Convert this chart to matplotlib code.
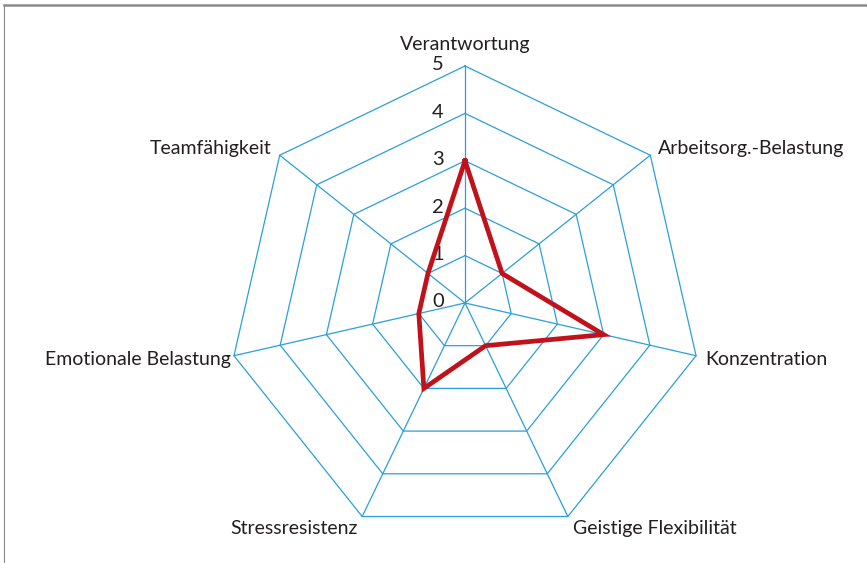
import numpy as np
import matplotlib.pyplot as plt
from matplotlib.lines import Line2D

# Kategorien im Uhrzeigersinn, beginnend oben
categories = ['Verantwortung', 'Arbeitsorg.-Belastung', 'Konzentration',
              'Geistige Flexibilität', 'Stressresistenz',
              'Emotionale Belastung', 'Teamfähigkeit']
values = [3, 1, 3, 1, 2, 1, 1]
rings = [1, 2, 3, 4, 5]
tick_labels = ['0', '1', '2', '3', '4', '5']

grid_color = '#2b9fd9'
line_color = '#c1121c'
text_color = '#231f20'

plt.rcParams['font.family'] = ['Lato', 'DejaVu Sans']

n = len(categories)
angles = np.linspace(0, 2 * np.pi, n, endpoint=False)
closed = np.append(angles, angles[0])

fig = plt.figure(figsize=(8.67, 5.63), dpi=100)
ax = fig.add_axes([0.263, 0.0409, 0.5467, 0.8419], projection='polar')
ax.set_theta_zero_location('N')
ax.set_theta_direction(-1)
ax.set_ylim(0, 5)
ax.grid(False)
ax.set_xticks([])
ax.set_yticks([])
ax.spines['polar'].set_visible(False)
ax.patch.set_visible(False)

# Netz
for r in rings:
    ax.plot(closed, [r] * (n + 1), color=grid_color, lw=0.9, clip_on=False)
for a in angles:
    ax.plot([a, a], [0, 5], color=grid_color, lw=0.9, clip_on=False)

# Daten
ax.plot(closed, values + values[:1], color=line_color, lw=3.4,
        solid_joinstyle='miter', clip_on=False, zorder=5)

# Skala
for i, t in enumerate(tick_labels):
    ax.annotate(t, xy=(0, i), xytext=(-27, 1), textcoords='offset pixels',
                ha='center', va='center', fontsize=14.5, color=text_color)

# Achsenbeschriftung
offsets = [(0, 13, 'center', 'bottom'), (8, 7, 'left', 'center'),
           (9, -4, 'left', 'center'), (5, -12, 'left', 'center'),
           (-4, -12, 'right', 'center'), (-3, -4, 'right', 'center'),
           (-8, 7, 'right', 'center')]
for a, lab, (dx, dy, ha, va) in zip(angles, categories, offsets):
    ax.annotate(lab, xy=(a, 5), xytext=(dx, dy), textcoords='offset pixels',
                ha=ha, va=va, fontsize=14, color=text_color)

# Rahmen
fig.add_artist(Line2D([0.005, 1.0], [0.991, 0.991], color='#8a8a8a', lw=1.8))
fig.add_artist(Line2D([0.005, 0.005], [0.0, 0.991], color='#8a8a8a', lw=0.8))

fig.savefig('out.png', dpi=100)
